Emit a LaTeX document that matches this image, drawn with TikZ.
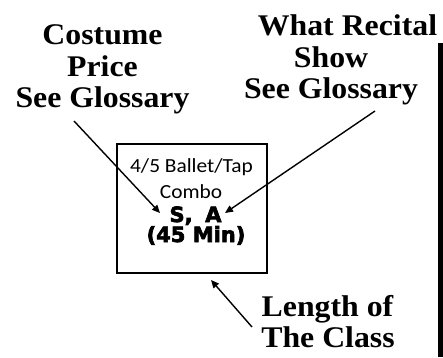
\documentclass[tikz,border=0pt]{standalone}
\usepackage{fontspec}
\setmainfont{Liberation Serif}[FakeStretch=1.06]
\newfontfamily\calfont{Carlito}[FakeStretch=1.07]
\newfontfamily\heavyfont{DejaVu Sans Bold}[FakeBold=3]
\usetikzlibrary{arrows.meta}
\begin{document}
\begin{tikzpicture}[x=1pt,y=-1pt,
  lbl/.style={font=\fontsize{30}{31}\selectfont\bfseries, inner sep=0, anchor=base},
  inner/.style={font=\calfont\fontsize{20}{22}\selectfont, inner sep=0, anchor=base},
  heavy/.style={font=\heavyfont\fontsize{21}{22}\selectfont, inner sep=0, anchor=base},
  arr/.style={line width=1.4pt, -{Triangle[length=8pt,width=7pt]}},
  framebox/.style={draw, line width=2.4pt, inner sep=0, minimum width=149.6pt, minimum height=128.6pt}]
\path[use as bounding box] (0,0) rectangle (443,357);
% left label
\node[lbl] (c1) at (102.5,44) {Costume};
\node[lbl] (c2) at (102.5,76) {Price};
\node[lbl] (c3) at (102.5,107) {See Glossary};
% right label
\node[lbl] (r1) at (347.5,35) {What Recital};
\node[lbl] (r2) at (331,67) {Show};
\node[lbl] (r3) at (331,98) {See Glossary};
% bottom label
\node[lbl] (l1) at (327.5,316) {Length of};
\node[lbl] (l2) at (328,347) {The Class};
% box
\node[framebox] (box) at (192,208.5) {};
\node[inner] (t1) at (191.5,172) {4/5 Ballet/Tap};
\node[inner] (t2) at (191,198) {Combo};
\node[heavy] (t3) at (195.5,222) {S,\hspace{0.6em}A};
\node[heavy] (t4) at (196,242) {(45 Min)};
% arrows
\coordinate (a1s) at (74,121);
\coordinate (a1e) at (160,213);
\coordinate (a2s) at (375,111);
\coordinate (a2e) at (225,213);
\coordinate (a3s) at (252,327);
\coordinate (a3e) at (211,280);
\draw[arr] (a1s) -- (a1e);
\draw[arr] (a2s) -- (a2e);
\draw[arr] (a3s) -- (a3e);
% vertical rule
\fill (438,43) rectangle (442.5,357);
\end{tikzpicture}
\end{document}
